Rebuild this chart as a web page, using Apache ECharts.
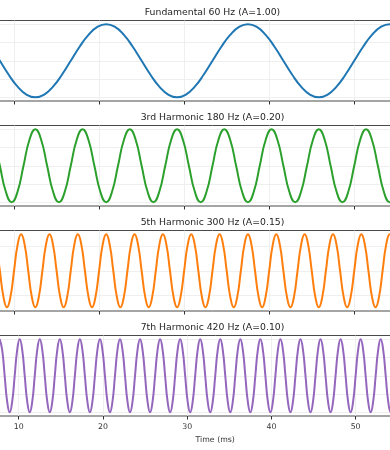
<!DOCTYPE html>
<html>
<head>
<meta charset="utf-8">
<script src="https://cdn.jsdelivr.net/npm/echarts@6/dist/echarts.min.js"></script>
<style>
  html, body { margin: 0; padding: 0; background: #fff; overflow: hidden; width: 390px; height: 450px; }
  #chart { position: absolute; left: -71px; top: 0; width: 567px; height: 450px; }
</style>
</head>
<body>
<div id="chart"></div>
<script>
// ---- Data (time in ms, signal value) ----
const titles = ['Fundamental 60 Hz (A=1.00)', '3rd Harmonic 180 Hz (A=0.20)', '5th Harmonic 300 Hz (A=0.15)', '7th Harmonic 420 Hz (A=0.10)'];
const amplitudes = [1.0, 0.2, 0.15, 0.1];
const colors = ['#1f77b4', '#2ca02c', '#ff7f0e', '#9467bd'];
const xMin = 0, xMax = 66.667;
const xLabel = 'Time (ms)';

// Fundamental 60 Hz
const t60 = [7.292,8.333,9.375,10.417,11.458,12.5,13.542,14.583,
  15.625,16.667,17.708,18.75,19.792,20.833,21.875,22.917,
  23.958,25,26.042,27.083,28.125,29.167,30.208,31.25,
  32.292,33.333,34.375,35.417,36.458,37.5,38.542,39.583,
  40.625,41.667,42.708,43.75,44.792,45.833,46.875,47.917,
  48.958,50,51.042,52.083,53.125,54.167,55.208];
const v60 = [0.383,0,-0.383,-0.707,-0.924,-1,-0.924,-0.707,
  -0.383,0,0.383,0.707,0.924,1,0.924,0.707,
  0.383,0,-0.383,-0.707,-0.924,-1,-0.924,-0.707,
  -0.383,0,0.383,0.707,0.924,1,0.924,0.707,
  0.383,0,-0.383,-0.707,-0.924,-1,-0.924,-0.707,
  -0.383,0,0.383,0.707,0.924,1,0.924];

// 3rd harmonic 180 Hz
const t180 = [6.944,7.639,8.333,9.028,9.722,10.417,11.111,11.806,
  12.5,13.194,13.889,14.583,15.278,15.972,16.667,17.361,
  18.056,18.75,19.444,20.139,20.833,21.528,22.222,22.917,
  23.611,24.306,25,25.694,26.389,27.083,27.778,28.472,
  29.167,29.861,30.556,31.25,31.944,32.639,33.333,34.028,
  34.722,35.417,36.111,36.806,37.5,38.194,38.889,39.583,
  40.278,40.972,41.667,42.361,43.056,43.75,44.444,45.139,
  45.833,46.528,47.222,47.917,48.611,49.306,50,50.694,
  51.389,52.083,52.778,53.472,54.167,54.861,55.556];
const v180 = [0.2,0.141,0,-0.141,-0.2,-0.141,0,0.141,
  0.2,0.141,0,-0.141,-0.2,-0.141,0,0.141,
  0.2,0.141,0,-0.141,-0.2,-0.141,0,0.141,
  0.2,0.141,0,-0.141,-0.2,-0.141,0,0.141,
  0.2,0.141,0,-0.141,-0.2,-0.141,0,0.141,
  0.2,0.141,0,-0.141,-0.2,-0.141,0,0.141,
  0.2,0.141,0,-0.141,-0.2,-0.141,0,0.141,
  0.2,0.141,0,-0.141,-0.2,-0.141,0,0.141,
  0.2,0.141,0,-0.141,-0.2,-0.141,0];

// 5th harmonic 300 Hz
const t300 = [7.5,7.917,8.333,8.75,9.167,9.583,10,10.417,
  10.833,11.25,11.667,12.083,12.5,12.917,13.333,13.75,
  14.167,14.583,15,15.417,15.833,16.25,16.667,17.083,
  17.5,17.917,18.333,18.75,19.167,19.583,20,20.417,
  20.833,21.25,21.667,22.083,22.5,22.917,23.333,23.75,
  24.167,24.583,25,25.417,25.833,26.25,26.667,27.083,
  27.5,27.917,28.333,28.75,29.167,29.583,30,30.417,
  30.833,31.25,31.667,32.083,32.5,32.917,33.333,33.75,
  34.167,34.583,35,35.417,35.833,36.25,36.667,37.083,
  37.5,37.917,38.333,38.75,39.167,39.583,40,40.417,
  40.833,41.25,41.667,42.083,42.5,42.917,43.333,43.75,
  44.167,44.583,45,45.417,45.833,46.25,46.667,47.083,
  47.5,47.917,48.333,48.75,49.167,49.583,50,50.417,
  50.833,51.25,51.667,52.083,52.5,52.917,53.333,53.75,
  54.167,54.583,55];
const v300 = [0.15,0.106,0,-0.106,-0.15,-0.106,0,0.106,
  0.15,0.106,0,-0.106,-0.15,-0.106,0,0.106,
  0.15,0.106,0,-0.106,-0.15,-0.106,0,0.106,
  0.15,0.106,0,-0.106,-0.15,-0.106,0,0.106,
  0.15,0.106,0,-0.106,-0.15,-0.106,0,0.106,
  0.15,0.106,0,-0.106,-0.15,-0.106,0,0.106,
  0.15,0.106,0,-0.106,-0.15,-0.106,0,0.106,
  0.15,0.106,0,-0.106,-0.15,-0.106,0,0.106,
  0.15,0.106,0,-0.106,-0.15,-0.106,0,0.106,
  0.15,0.106,0,-0.106,-0.15,-0.106,0,0.106,
  0.15,0.106,0,-0.106,-0.15,-0.106,0,0.106,
  0.15,0.106,0,-0.106,-0.15,-0.106,0,0.106,
  0.15,0.106,0,-0.106,-0.15,-0.106,0,0.106,
  0.15,0.106,0,-0.106,-0.15,-0.106,0,0.106,
  0.15,0.106,0];

// 7th harmonic 420 Hz
const t420 = [7.738,8.036,8.333,8.631,8.929,9.226,9.524,9.821,
  10.119,10.417,10.714,11.012,11.31,11.607,11.905,12.202,
  12.5,12.798,13.095,13.393,13.69,13.988,14.286,14.583,
  14.881,15.179,15.476,15.774,16.071,16.369,16.667,16.964,
  17.262,17.56,17.857,18.155,18.452,18.75,19.048,19.345,
  19.643,19.94,20.238,20.536,20.833,21.131,21.429,21.726,
  22.024,22.321,22.619,22.917,23.214,23.512,23.81,24.107,
  24.405,24.702,25,25.298,25.595,25.893,26.19,26.488,
  26.786,27.083,27.381,27.679,27.976,28.274,28.571,28.869,
  29.167,29.464,29.762,30.06,30.357,30.655,30.952,31.25,
  31.548,31.845,32.143,32.44,32.738,33.036,33.333,33.631,
  33.929,34.226,34.524,34.821,35.119,35.417,35.714,36.012,
  36.31,36.607,36.905,37.202,37.5,37.798,38.095,38.393,
  38.69,38.988,39.286,39.583,39.881,40.179,40.476,40.774,
  41.071,41.369,41.667,41.964,42.262,42.56,42.857,43.155,
  43.452,43.75,44.048,44.345,44.643,44.94,45.238,45.536,
  45.833,46.131,46.429,46.726,47.024,47.321,47.619,47.917,
  48.214,48.512,48.81,49.107,49.405,49.702,50,50.298,
  50.595,50.893,51.19,51.488,51.786,52.083,52.381,52.679,
  52.976,53.274,53.571,53.869,54.167,54.464,54.762];
const v420 = [0.1,0.071,0,-0.071,-0.1,-0.071,0,0.071,
  0.1,0.071,0,-0.071,-0.1,-0.071,0,0.071,
  0.1,0.071,0,-0.071,-0.1,-0.071,0,0.071,
  0.1,0.071,0,-0.071,-0.1,-0.071,0,0.071,
  0.1,0.071,0,-0.071,-0.1,-0.071,0,0.071,
  0.1,0.071,0,-0.071,-0.1,-0.071,0,0.071,
  0.1,0.071,0,-0.071,-0.1,-0.071,0,0.071,
  0.1,0.071,0,-0.071,-0.1,-0.071,0,0.071,
  0.1,0.071,0,-0.071,-0.1,-0.071,0,0.071,
  0.1,0.071,0,-0.071,-0.1,-0.071,0,0.071,
  0.1,0.071,0,-0.071,-0.1,-0.071,0,0.071,
  0.1,0.071,0,-0.071,-0.1,-0.071,0,0.071,
  0.1,0.071,0,-0.071,-0.1,-0.071,0,0.071,
  0.1,0.071,0,-0.071,-0.1,-0.071,0,0.071,
  0.1,0.071,0,-0.071,-0.1,-0.071,0,0.071,
  0.1,0.071,0,-0.071,-0.1,-0.071,0,0.071,
  0.1,0.071,0,-0.071,-0.1,-0.071,0,0.071,
  0.1,0.071,0,-0.071,-0.1,-0.071,0,0.071,
  0.1,0.071,0,-0.071,-0.1,-0.071,0,0.071,
  0.1,0.071,0,-0.071,-0.1,-0.071,0];

const times = [t60, t180, t300, t420];
const values = [v60, v180, v300, v420];

// y tick positions (horizontal grid lines)
const yTicks = [
  [-1, -0.5, 0, 0.5, 1],
  [-0.2, -0.1, 0, 0.1, 0.2],
  [-0.1, 0, 0.1],
  [-0.1, -0.05, 0, 0.05, 0.1]
];

// ---- Layout ----
const gridTops = [20.5, 125.5, 230.5, 335.5];
const gridHeight = 80.5;
const FONT = "'DejaVu Sans', sans-serif";

const grids = [], xAxes = [], yAxes = [], series = [], graphics = [];
for (let i = 0; i < 4; i++) {
  const last = i === 3;
  grids.push({ left: 0, right: 0, top: gridTops[i], height: gridHeight, show: true,
    borderColor: '#4a4a4a', borderWidth: 1, backgroundColor: 'transparent', containLabel: false });
  xAxes.push({
    type: 'value', gridIndex: i, min: xMin, max: xMax, interval: 10, position: 'bottom',
    axisLine: { show: false, onZero: false },
    axisTick: { show: true, inside: false, length: 3.5, lineStyle: { color: '#333', width: 1 } },
    axisLabel: { show: last, fontSize: 7.8, color: '#333', margin: 7, fontFamily: FONT,
      showMinLabel: true, showMaxLabel: false },
    splitLine: { show: true, lineStyle: { color: '#ebebeb', width: 0.8 } },
    name: last ? xLabel : '', nameLocation: 'middle', nameGap: 19.5,
    nameTextStyle: { fontSize: 7.8, color: '#333', fontFamily: FONT }
  });
  const A = amplitudes[i];
  yAxes.push({
    type: 'value', gridIndex: i, min: -1.1 * A, max: 1.1 * A,
    axisLine: { show: false, onZero: false }, axisTick: { show: false }, axisLabel: { show: false },
    splitLine: { show: false }
  });
  const data = times[i].map((t, j) => [t, values[i][j]]);
  series.push({
    type: 'line', xAxisIndex: i, yAxisIndex: i, data: data,
    smooth: 0.5, symbol: 'none', showSymbol: false, z: 3,
    lineStyle: { color: colors[i], width: 2 },
    markLine: {
      silent: true, symbol: 'none', z: 1, animation: false,
      label: { show: false },
      lineStyle: { color: '#ebebeb', type: 'solid', width: 0.8 },
      data: yTicks[i].map(v => ({ yAxis: v }))
    }
  });
  graphics.push({
    type: 'text', x: 283.5, y: gridTops[i] - 7.5, z: 10,
    style: { text: titles[i], align: 'center', verticalAlign: 'middle',
      font: "9.3px 'DejaVu Sans', sans-serif", fill: '#262626' }
  });
}

const chart = echarts.init(document.getElementById('chart'), null, { renderer: 'canvas' });
chart.setOption({
  animation: false,
  backgroundColor: '#fff',
  grid: grids, xAxis: xAxes, yAxis: yAxes, series: series, graphic: graphics
});
</script>
</body>
</html>
